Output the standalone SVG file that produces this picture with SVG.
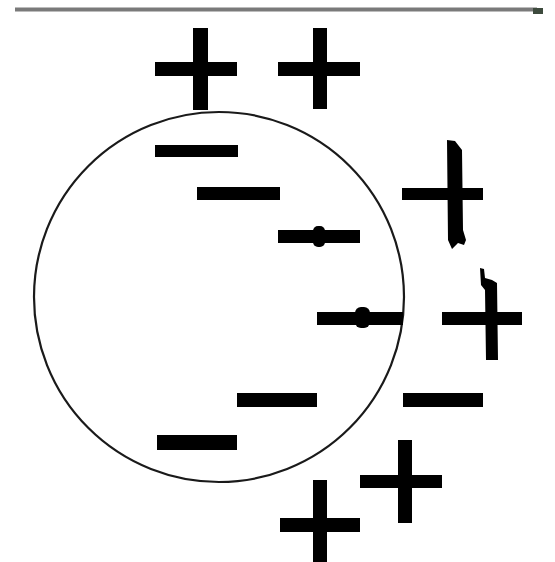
<svg xmlns="http://www.w3.org/2000/svg" width="555" height="562" viewBox="0 0 555 562">
<style>
.bar{fill:#000}
.ring{fill:none;stroke:#1a1a1a;stroke-width:2.2}
</style>
<rect width="555" height="562" fill="#fff"/>
<line x1="15" y1="9.5" x2="537" y2="9.5" stroke="#7a7a7a" stroke-width="4"/>
<rect x="533" y="8" width="10" height="6" fill="#3d4a3d"/>
<circle class="ring" cx="219" cy="297" r="185"/>
<g id="plus-top-1">
<rect class="bar" x="155" y="62" width="82" height="14"/>
<rect class="bar" x="193" y="28" width="15" height="82"/>
</g>
<g id="plus-top-2">
<rect class="bar" x="278" y="62" width="82" height="14"/>
<rect class="bar" x="313" y="28" width="14" height="81"/>
</g>
<g id="minus-1"><rect class="bar" x="155" y="145" width="83" height="12"/></g>
<g id="minus-2"><rect class="bar" x="197" y="187" width="83" height="13"/></g>
<g id="minus-3">
<rect class="bar" x="278" y="230" width="82" height="13"/>
<rect class="bar" x="313" y="226" width="12" height="21" rx="5"/>
</g>
<g id="minus-4">
<rect class="bar" x="317" y="312" width="86" height="13"/>
<rect class="bar" x="355" y="307" width="15" height="21" rx="6"/>
</g>
<g id="plus-right-1">
<rect class="bar" x="402" y="188" width="81" height="12"/>
<polygon class="bar" points="447,140 455,141 462,150 463,230 466,240 464,245 458,243 452,249 448,240"/>
</g>
<g id="plus-right-2">
<rect class="bar" x="442" y="312" width="80" height="13"/>
<polygon class="bar" points="480,268 484,269 485,278 492,280 497,283 498,360 486,360 485,290 481,285"/>
</g>
<g id="minus-5"><rect class="bar" x="237" y="393" width="80" height="14"/></g>
<g id="minus-6"><rect class="bar" x="403" y="393" width="80" height="14"/></g>
<g id="minus-7"><rect class="bar" x="157" y="435" width="80" height="15"/></g>
<g id="plus-bottom-1">
<rect class="bar" x="360" y="475" width="82" height="13"/>
<rect class="bar" x="398" y="440" width="14" height="83"/>
</g>
<g id="plus-bottom-2">
<rect class="bar" x="280" y="518" width="80" height="14"/>
<rect class="bar" x="313" y="480" width="14" height="82"/>
</g>
</svg>
